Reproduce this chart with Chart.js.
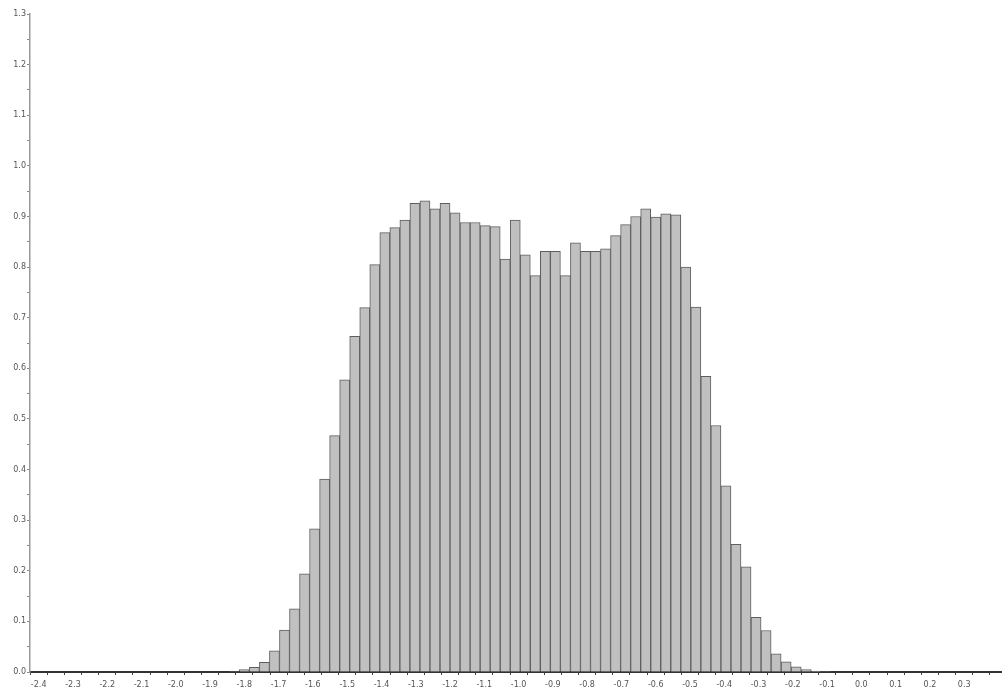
<!DOCTYPE html>
<html>
<head>
<meta charset="utf-8">
<script src="https://cdn.jsdelivr.net/npm/chart.js@4.4.1/dist/chart.umd.min.js"></script>
<style>
  html, body { margin: 0; padding: 0; background: #fff; }
  #wrap { width: 1002px; height: 698px; position: relative; }
</style>
</head>
<body>
<div id="wrap"><canvas id="histChart"></canvas></div>
<script>
// histogram bins: start, width and the height of each bin
const binStart = -2.4;
const binWidth = 0.02927;
const binHeights = [
  0, 0, 0, 0, 0, 0, 0, 0, 0, 0,
  0, 0, 0, 0, 0, 0, 0, 0, 0, 0.001,
  0.005, 0.009, 0.019, 0.042, 0.083, 0.125, 0.194, 0.283, 0.381, 0.467,
  0.577, 0.663, 0.720, 0.805, 0.868, 0.878, 0.893, 0.926, 0.931, 0.915,
  0.926, 0.907, 0.888, 0.888, 0.882, 0.880, 0.816, 0.893, 0.824, 0.783,
  0.831, 0.831, 0.783, 0.848, 0.831, 0.831, 0.836, 0.862, 0.884, 0.900,
  0.915, 0.899, 0.905, 0.903, 0.800, 0.721, 0.584, 0.487, 0.368, 0.252,
  0.208, 0.108, 0.082, 0.036, 0.020, 0.010, 0.005, 0.002, 0.001, 0,
  0, 0, 0, 0, 0, 0, 0, 0, 0, 0,
  0, 0, 0, 0, 0
];
const xRange = [-2.4, 0.385];
const yRange = [0, 1.3];
const tickStep = 0.05;   // minor ticks; labels only every 0.1

window.onload = preparePage;

function preparePage() {
  const points = binHeights.map(function (h, i) {
    return { x: binStart + (i + 0.5) * binWidth, y: h };
  });

  function tenths(value) {
    const r = Math.round(value * 100);
    if (r % 10 !== 0) return '';
    return (r / 100).toFixed(1);
  }

  // build ticks on exact multiples of the step, so the first one (-2.4) is kept
  function stepTicks(scale) {
    const lo = Math.round(scale.min / tickStep);
    const hi = Math.floor(scale.max / tickStep + 1e-6);
    const ticks = [];
    for (let k = lo; k <= hi; k++) ticks.push({ value: k * tickStep });
    scale.ticks = ticks;
  }

  const ctx = document.getElementById('histChart').getContext('2d');
  new Chart(ctx, {
    type: 'bar',
    data: {
      datasets: [{
        data: points,
        backgroundColor: '#c0c0c0',
        borderColor: '#5e5e5e',
        borderWidth: 1,
        barPercentage: 1.0,
        categoryPercentage: 1.0
      }]
    },
    options: {
      responsive: true,
      maintainAspectRatio: false,
      animation: false,
      layout: { padding: { top: 14, right: 0, left: 0, bottom: 0 } },
      plugins: {
        legend: { display: false },
        tooltip: { enabled: false }
      },
      scales: {
        x: {
          type: 'linear',
          min: xRange[0],
          max: xRange[1],
          afterBuildTicks: stepTicks,
          afterFit: function (scale) { scale.height = 26; },
          border: { color: '#333', width: 2 },
          grid: { drawOnChartArea: false, drawTicks: true, tickLength: 3, color: '#444' },
          ticks: {
            autoSkip: false,
            maxRotation: 0,
            padding: 5,
            color: '#555',
            font: { family: 'DejaVu Sans', size: 8 },
            callback: tenths
          }
        },
        y: {
          min: yRange[0],
          max: yRange[1],
          afterBuildTicks: stepTicks,
          afterFit: function (scale) { scale.width = 30; },
          border: { color: '#999', width: 1.5 },
          grid: { drawOnChartArea: false, drawTicks: true, tickLength: 3, color: '#888' },
          ticks: {
            autoSkip: false,
            padding: 1,
            color: '#555',
            font: { family: 'DejaVu Sans', size: 8 },
            callback: tenths
          }
        }
      }
    }
  });
}
</script>
</body>
</html>
